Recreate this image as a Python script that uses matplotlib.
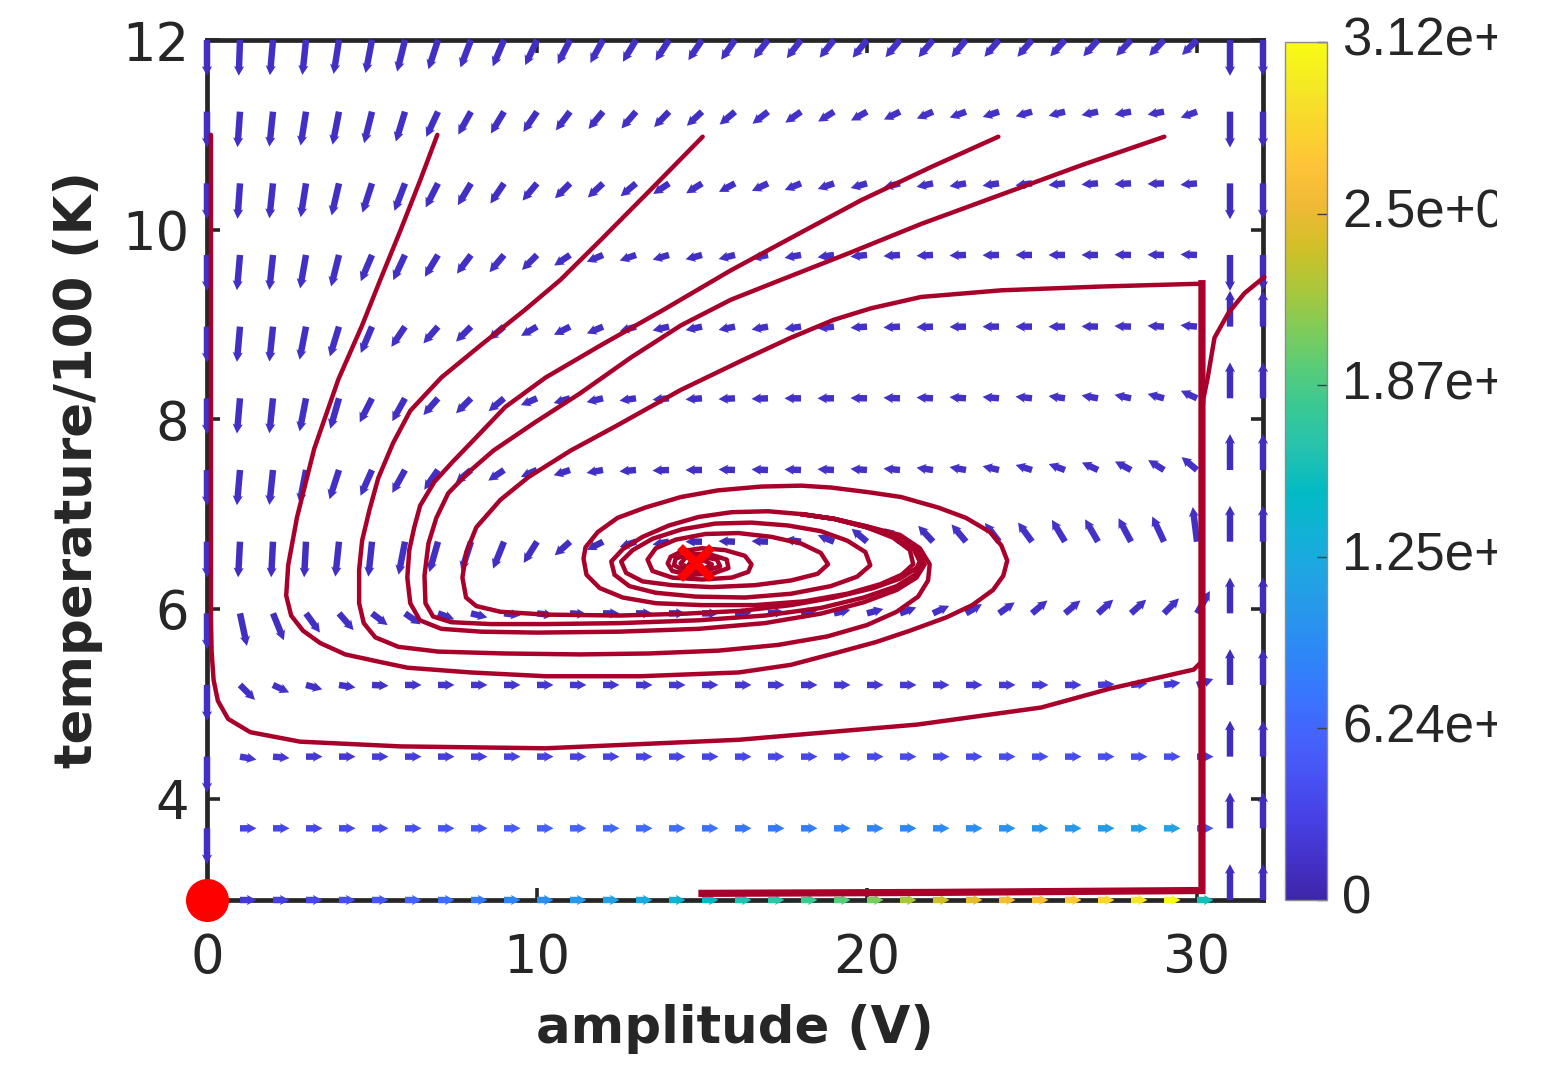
import numpy as np
import matplotlib
matplotlib.use("Agg")
import matplotlib.pyplot as plt
from matplotlib.colors import LinearSegmentedColormap, Normalize
from matplotlib.cm import ScalarMappable
from matplotlib.transforms import Bbox, TransformedBbox

plt.rcParams["font.family"] = ["DejaVu Sans"]

# ---------------------------------------------------------------- data
amplitude_cols = list(range(33))                     # V
temperature_rows = [2.93, 3.686, 4.442, 5.198, 5.953, 6.709, 7.465,
                    8.221, 8.977, 9.733, 10.488, 11.244, 12.0]   # K/100
cell_dx, cell_dy = 1.0, 0.756

# arrow direction on screen (deg, counter-clockwise from +x), rows bottom -> top,
# columns amplitude 0..32
arrow_angle = [
    [0] + [0] * 30 + [90, 90],
    [-90] + [0] * 30 + [90, 90],
    [-90, -10, -5] + [0] * 28 + [90, 90],
    [-90, -45, -25, -15, -9, -3] + [0] * 21 + [3, 5, 8, 20, 90, 90],
    [-90, -78, -68, -54, -49, -37, -35, -20, -14, -7, -7, -3, 0, 0, 0, 0, 2,
     5, 10, 12, 15, 20, 25, 30, 35, 40, 40, 42, 42, 45, 60, 90, 90],
    [-90, -93, -93, -93, -96, -96, -101, -106, -108, -112, -122, -138, -153, -162, -170, 180, 178,
     178, 172, 158, 140, 139, 133, 130, 127, 126, 121, 120, 118, 115, 97, 90, 90],
    [-90, -95, -96, -101, -108, -114, -119, -125, -140, -146, -157, -162, -170, -175, -178, 180, 178,
     178, 178, 177, 176, 175, 172, 170, 167, 163, 160, 155, 152, 148, 140, 90, 90],
    [-90, -95, -96, -101, -106, -117, -119, -131, -135, -140, -157, -164, -167, -172, -175, -176, -177,
     -178, 180, 180, 179, 178, 177, 176, 175, 174, 172, 170, 168, 165, 155, 90, 90],
    [-90, -95, -96, -101, -107, -113, -124, -131, -135, -140, -150, -153, -157, -164, -167, -168, -169,
     -170, -172, -174, -176, -177, -178, -179, 180, 180, 180, 179, 178, 177, 175, 90, 90],
    [-90, -95, -96, -100, -104, -113, -115, -121, -127, -130, -135, -146, -157, -161, -164, -165, -166,
     -168, -170, -172, -174, -176, -177, -178, -179, -180, 180, 180, 179, 179, 178, -90, -90],
    [-90, -94, -96, -99, -103, -108, -111, -117, -121, -124, -130, -135, -137, -140, -146, -148, -152,
     -155, -158, -161, -164, -166, -168, -170, -172, -173, -174, -176, -177, -178, -175, -90, -90],
    [-90, -94, -96, -99, -101, -104, -107, -115, -119, -121, -124, -127, -130, -131, -134, -137, -140,
     -142, -145, -148, -151, -154, -157, -160, -162, -164, -166, -168, -170, -170, -160, -90, -90],
    [-90, -92, -95, -96, -99, -101, -104, -108, -111, -113, -115, -117, -119, -121, -123, -124, -125,
     -128, -128, -129, -129, -130, -130, -130, -131, -131, -132, -132, -133, -133, -135, -90, -90],
]

# rate magnitude as a fraction of the colour-bar maximum
SPEED_MAX = 3.12e4
arrow_speed = [
    [0.05, 0.07, 0.09, 0.11, 0.13, 0.16, 0.19, 0.22, 0.25, 0.28, 0.31,
     0.34, 0.37, 0.40, 0.44, 0.48, 0.52, 0.55, 0.58, 0.62, 0.66,
     0.71, 0.76, 0.79, 0.82, 0.84, 0.87, 0.90, 0.94, 1.00, 0.50, 0.03, 0.03],
    [0.04, 0.10, 0.11, 0.11, 0.12, 0.13, 0.14, 0.15, 0.16, 0.17, 0.18,
     0.19, 0.20, 0.21, 0.22, 0.23, 0.24, 0.25, 0.26, 0.27, 0.28,
     0.29, 0.30, 0.31, 0.32, 0.33, 0.34, 0.35, 0.36, 0.37, 0.15, 0.03, 0.03],
    [0.04, 0.06, 0.065, 0.07, 0.07, 0.075, 0.08, 0.08, 0.085, 0.09, 0.09,
     0.095, 0.10, 0.10, 0.10, 0.105, 0.11, 0.11, 0.11, 0.115, 0.115,
     0.12, 0.12, 0.12, 0.125, 0.125, 0.13, 0.13, 0.13, 0.13, 0.08, 0.03, 0.03],
    [0.04, 0.04, 0.045, 0.05, 0.05, 0.05, 0.055, 0.055, 0.055, 0.06, 0.06,
     0.06, 0.06, 0.06, 0.065, 0.065, 0.065, 0.065, 0.065, 0.07, 0.07,
     0.07, 0.07, 0.07, 0.07, 0.075, 0.075, 0.075, 0.075, 0.075, 0.05, 0.03, 0.03],
    [0.04, 0.035, 0.035, 0.04, 0.04, 0.04, 0.04, 0.04, 0.04, 0.04, 0.04,
     0.035, 0.035, 0.03, 0.03, 0.03, 0.03, 0.035, 0.035, 0.04, 0.04,
     0.04, 0.045, 0.045, 0.045, 0.045, 0.05, 0.05, 0.05, 0.05, 0.04, 0.03, 0.03],
    [0.04, 0.035, 0.035, 0.035, 0.04, 0.04, 0.04, 0.04, 0.04, 0.04, 0.035,
     0.035, 0.03, 0.03, 0.025, 0.025, 0.03, 0.03, 0.035, 0.035, 0.04,
     0.04, 0.04, 0.045, 0.045, 0.045, 0.045, 0.045, 0.045, 0.045, 0.04, 0.03, 0.03],
    [0.035] + [0.04] * 16 + [0.045] * 14 + [0.03, 0.03],
    [0.035] + [0.04] * 16 + [0.045] * 14 + [0.03, 0.03],
    [0.035] + [0.04] * 16 + [0.045] * 14 + [0.03, 0.03],
    [0.035] + [0.04] * 16 + [0.045] * 14 + [0.03, 0.03],
    [0.035] + [0.04] * 16 + [0.045] * 14 + [0.03, 0.03],
    [0.035] + [0.04] * 16 + [0.045] * 14 + [0.03, 0.03],
    [0.035] + [0.04] * 16 + [0.045] * 14 + [0.03, 0.03],
]

cbar_ticks = [0.0, 6.24e3, 1.248e4, 1.872e4, 2.496e4, 3.12e4]
cbar_labels = ["0", "6.24e+03", "1.25e+04", "1.87e+04", "2.5e+04", "3.12e+04"]

# trajectories (amplitude, temperature/100)
traj_a = [(0.12, 11.0), (0.12, 5.9), (0.14, 5.55), (0.2, 5.25), (0.33, 5.03), (0.64, 4.84),
          (1.31, 4.70), (2.82, 4.60), (5.86, 4.55), (10.26, 4.53), (16.12, 4.62), (21.52, 4.78),
          (25.28, 4.96), (27.37, 5.16), (29.9, 5.36), (30.1, 5.43)]

traj_sat = [(15.0, 3.0), (22.0, 3.01), (30.15, 3.03), (30.15, 9.43)]

traj_h = [(32.04, 9.50), (31.44, 9.33), (30.95, 9.12), (30.53, 8.86), (30.32, 8.43),
          (30.19, 8.21), (30.13, 7.9), (30.12, 7.6)]

traj_f = [(30.15, 9.43), (27.1, 9.40), (24.07, 9.36), (21.64, 9.29), (20.12, 9.17), (19.0, 9.05),
          (17.69, 8.86), (16.21, 8.62), (14.36, 8.31), (12.35, 7.92), (11.02, 7.67), (9.74, 7.39),
          (8.89, 7.15), (8.16, 6.86), (7.86, 6.6), (7.74, 6.33), (7.85, 6.12), (8.16, 6.03),
          (8.89, 5.97), (10.26, 5.94), (12.5, 5.93), (14.5, 5.95), (16.2, 5.98), (17.7, 6.04),
          (19.0, 6.12), (20.2, 6.22), (21.0, 6.32), (21.5, 6.43), (21.6, 6.5), (21.4, 6.64),
          (20.85, 6.76), (20.0, 6.86), (19.0, 6.95), (18.0, 7.0)]

traj_c = [(15.02, 10.98), (13.44, 10.42), (11.93, 9.89), (10.71, 9.47), (9.62, 9.15), (8.29, 8.78),
          (7.1, 8.44), (6.16, 8.09), (5.64, 7.75), (5.19, 7.38), (4.92, 7.04), (4.7, 6.72),
          (4.61, 6.41), (4.61, 6.06), (4.75, 5.85), (5.1, 5.7), (5.8, 5.6), (7.0, 5.55), (9.0, 5.53),
          (11.3, 5.52), (13.4, 5.53), (15.5, 5.56), (17.3, 5.62), (18.8, 5.71), (20.0, 5.83),
          (20.9, 5.97), (21.55, 6.13), (21.85, 6.3), (21.9, 6.47), (21.6, 6.64), (21.0, 6.78),
          (20.0, 6.87), (19.0, 6.95), (18.0, 7.0)]

traj_d = [(23.98, 10.98), (21.94, 10.66), (19.82, 10.31), (18.0, 9.97), (15.87, 9.57), (13.81, 9.15),
          (11.93, 8.78), (10.26, 8.44), (9.04, 8.13), (8.16, 7.81), (7.44, 7.55), (6.89, 7.34),
          (6.46, 7.09), (6.28, 6.86), (6.13, 6.62), (6.07, 6.33), (6.16, 6.06), (6.45, 5.88),
          (7.1, 5.79), (8.3, 5.76), (10.0, 5.75), (12.5, 5.76), (14.9, 5.79), (16.9, 5.85),
          (18.6, 5.95), (19.9, 6.07), (20.9, 6.2), (21.5, 6.33), (21.75, 6.47), (21.5, 6.63),
          (20.9, 6.77), (20.0, 6.87), (19.0, 6.95), (18.0, 7.0)]

traj_e = [(29.01, 10.98), (26.5, 10.68), (24.07, 10.37), (21.64, 10.06), (19.51, 9.76), (17.39, 9.47),
          (15.87, 9.26), (14.36, 8.99), (12.84, 8.65), (11.29, 8.27), (9.95, 7.97), (8.68, 7.67),
          (7.92, 7.44), (7.31, 7.22), (6.95, 6.96), (6.71, 6.69), (6.59, 6.35), (6.62, 6.06),
          (6.85, 5.92), (7.4, 5.86), (8.6, 5.84), (10.3, 5.84), (12.5, 5.85), (14.9, 5.88),
          (16.9, 5.93), (18.6, 6.01), (19.9, 6.12), (20.9, 6.24), (21.45, 6.36), (21.65, 6.48),
          (21.45, 6.63), (20.85, 6.76), (20.0, 6.86), (19.0, 6.95), (18.0, 7.0)]

traj_b = [(6.98, 11.0), (6.46, 10.52), (5.86, 9.99), (5.25, 9.47), (4.7, 8.99), (3.98, 8.42),
          (3.25, 7.69), (2.73, 6.97), (2.46, 6.46), (2.4, 6.14), (2.55, 5.93), (2.91, 5.77),
          (3.43, 5.64), (4.19, 5.52), (5.25, 5.44), (6.07, 5.38), (7.98, 5.33), (10.26, 5.29),
          (13.14, 5.29), (16.12, 5.33), (17.69, 5.41), (19.0, 5.53), (20.27, 5.65), (21.3, 5.77),
          (22.4, 5.91), (23.19, 6.04), (23.82, 6.2), (24.13, 6.35), (24.25, 6.51), (24.07, 6.67),
          (23.73, 6.81), (23.0, 6.96), (22.15, 7.07), (21.03, 7.18), (20.06, 7.23), (18.91, 7.28),
          (18.0, 7.3), (16.78, 7.29), (15.48, 7.25), (14.36, 7.18), (13.29, 7.07), (12.44, 6.96),
          (11.84, 6.81), (11.47, 6.65), (11.41, 6.53),
          (11.5, 6.36), (11.9, 6.22), (12.6, 6.12), (13.6, 6.06), (15.0, 6.04), (16.6, 6.04),
          (18.1, 6.08), (19.4, 6.16), (20.4, 6.26), (21.05, 6.36), (21.4, 6.47), (21.3, 6.62),
          (20.8, 6.75), (20.0, 6.86), (19.0, 6.95), (18.0, 7.0), (17.0, 7.03), (15.9, 7.02),
          (14.9, 6.97), (14.0, 6.88), (13.2, 6.76), (12.6, 6.63), (12.25, 6.5),
          (12.35, 6.36), (12.8, 6.24), (13.6, 6.17), (14.8, 6.13), (16.3, 6.12), (17.7, 6.16),
          (18.9, 6.24), (19.7, 6.34), (20.1, 6.46), (19.95, 6.6), (19.4, 6.72), (18.6, 6.82),
          (17.6, 6.88), (16.5, 6.91), (15.4, 6.9), (14.4, 6.84), (13.5, 6.74), (12.9, 6.62),
          (12.55, 6.5),
          (12.7, 6.38), (13.2, 6.29), (14.1, 6.25), (15.3, 6.23), (16.6, 6.25), (17.7, 6.3),
          (18.5, 6.37), (18.82, 6.47), (18.6, 6.59), (18.0, 6.69), (17.1, 6.76), (16.1, 6.8),
          (15.1, 6.79), (14.2, 6.73), (13.6, 6.64), (13.35, 6.52),
          (13.5, 6.4), (14.1, 6.33), (15.0, 6.31), (15.9, 6.33), (16.4, 6.39), (16.5, 6.47),
          (16.3, 6.56), (15.7, 6.62), (15.0, 6.64), (14.4, 6.61), (14.05, 6.55), (13.96, 6.48),
          (14.1, 6.40), (14.6, 6.36), (15.3, 6.37), (15.8, 6.43), (15.75, 6.52), (15.2, 6.58),
          (14.6, 6.58), (14.2, 6.53), (14.15, 6.46), (14.5, 6.40), (15.1, 6.40), (15.55, 6.45),
          (15.45, 6.52), (15.0, 6.55), (14.5, 6.54), (14.35, 6.48), (14.6, 6.43), (15.1, 6.43),
          (15.3, 6.47), (15.05, 6.51), (14.7, 6.51), (14.6, 6.47), (14.85, 6.45), (14.95, 6.47),
          (14.81, 6.48)]

ambient_point = (0.0, 2.93)
equilibrium_point = (14.81, 6.48)

# parula-like colour map
parula_anchors = [
    (0.2422, 0.1504, 0.6603), (0.2647, 0.1978, 0.7952), (0.2783, 0.2559, 0.8991),
    (0.2810, 0.3228, 0.9579), (0.2699, 0.3892, 0.9906), (0.2206, 0.4603, 0.9973),
    (0.1786, 0.5289, 0.9682), (0.1540, 0.5902, 0.9218), (0.1248, 0.6459, 0.8883),
    (0.0689, 0.6948, 0.8394), (0.0067, 0.7312, 0.7660), (0.1408, 0.7584, 0.6842),
    (0.2161, 0.7843, 0.5923), (0.3406, 0.8008, 0.4789), (0.5044, 0.7993, 0.3480),
    (0.6720, 0.7793, 0.2227), (0.8203, 0.7498, 0.1535), (0.9393, 0.7288, 0.2100),
    (0.9970, 0.7659, 0.2199), (0.9786, 0.8386, 0.1766), (0.9597, 0.9135, 0.1423),
    (0.9769, 0.9839, 0.0805)]
parula = LinearSegmentedColormap.from_list("parula", parula_anchors, N=256)

# ---------------------------------------------------------------- figure
FIG_W, FIG_H, DPI = 1553, 1066, 100
fig = plt.figure(figsize=(FIG_W / DPI, FIG_H / DPI), dpi=DPI)
ax_rect = [207 / FIG_W, 1 - 900 / FIG_H, 1056 / FIG_W, 860 / FIG_H]
ax = fig.add_axes(ax_rect)
xlim = (0, 32)
ylim = (2.93, 12.0)
ax.set_xlim(*xlim)
ax.set_ylim(*ylim)

# arrows: half a grid cell long in each axis direction
X, Y = np.meshgrid(np.array(amplitude_cols, float), np.array(temperature_rows, float))
alpha = np.radians(np.array(arrow_angle, float))
px_per_x = ax_rect[2] * FIG_W / (xlim[1] - xlim[0])
px_per_y = ax_rect[3] * FIG_H / (ylim[1] - ylim[0])
half_px_x = 0.5 * cell_dx * px_per_x
half_px_y = 0.5 * cell_dy * px_per_y
phi = np.arctan2(half_px_x * np.sin(alpha), half_px_y * np.cos(alpha))
U = 0.5 * cell_dx * np.cos(phi)
V = 0.5 * cell_dy * np.sin(phi)
speed = np.array(arrow_speed, float) * SPEED_MAX
norm = Normalize(vmin=0.0, vmax=SPEED_MAX)

ax.quiver(X, Y, U, V, speed, cmap=parula, norm=norm, angles="xy", scale_units="xy",
          scale=1, pivot="tail", width=0.0061, headwidth=1.6, headlength=1.5,
          headaxislength=1.35, zorder=3, clip_on=False)

red = "#A8002A"
for tr in (traj_a, traj_h, traj_f, traj_c, traj_d, traj_e, traj_b):
    xs, ys = zip(*tr)
    ax.plot(xs, ys, color=red, lw=3.2, solid_joinstyle="round", solid_capstyle="round",
            zorder=4, clip_on=False)
xs, ys = zip(*traj_sat)
ax.plot(xs, ys, color=red, lw=5.2, solid_joinstyle="miter", zorder=4, clip_on=False)

ax.plot(*equilibrium_point, marker="x", color="#FF0000", ms=23, mew=6.0, zorder=6)
ax.plot(*ambient_point, marker="o", color="#FF0000", ms=31, mew=0, zorder=6, clip_on=False)

# axes styling
spine_col = "#262626"
for s in ax.spines.values():
    s.set_linewidth(3.4)
    s.set_color(spine_col)
ax.set_xticks([0, 10, 20, 30])
ax.set_yticks([4, 6, 8, 10, 12])
ax.tick_params(axis="both", which="major", direction="in", length=9, width=2.6,
               color=spine_col, labelcolor=spine_col, labelsize=38,
               top=True, right=True)
ax.tick_params(axis="x", pad=23)
ax.tick_params(axis="y", pad=13)

fig.text(735 / FIG_W, 1 - 1043 / FIG_H, "amplitude (V)", fontsize=37, fontweight="bold",
         ha="center", va="baseline", color=spine_col)
fig.text(78 / FIG_W, 1 - 470 / FIG_H, "temperature/100 (K)", fontsize=37, fontweight="bold",
         rotation=90, ha="center", va="center", color=spine_col)

# colour bar
cax = fig.add_axes([1285 / FIG_W, 1 - 900 / FIG_H, 42 / FIG_W, 858 / FIG_H])
sm = ScalarMappable(norm=norm, cmap=parula)
cb = fig.colorbar(sm, cax=cax)
cb.outline.set_edgecolor("#8c8c8c")
cb.outline.set_linewidth(1.0)
cb.set_ticks(cbar_ticks)
cb.set_ticklabels([""] * len(cbar_ticks))
cax.tick_params(direction="in", length=7, width=1.0, color="#404040", right=True, left=False)

# tick labels of the colour bar run past the right edge of the canvas area
clip = TransformedBbox(Bbox([[0, 0], [1497 / FIG_W, 1]]), fig.transFigure)
for v, s in zip(cbar_ticks, cbar_labels):
    t = cax.text(1.36, v, s, transform=cax.get_yaxis_transform(), ha="left", va="center",
                 fontsize=38, color=spine_col, family=["Liberation Sans", "DejaVu Sans"])
    t.set_clip_box(clip)
    t.set_clip_on(True)

fig.savefig("out.png", dpi=DPI, facecolor="white")
